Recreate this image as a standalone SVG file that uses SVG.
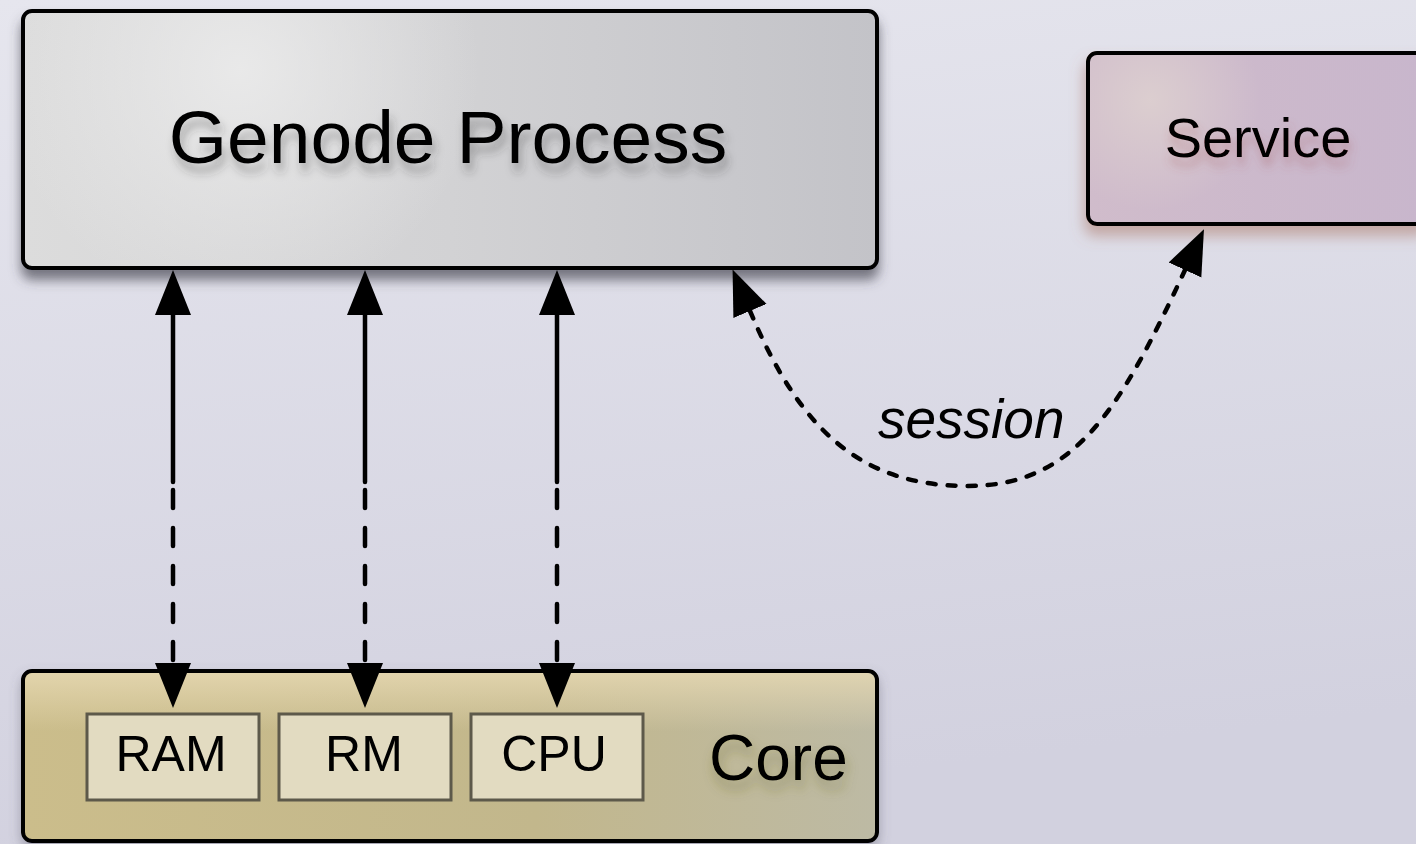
<svg xmlns="http://www.w3.org/2000/svg" width="1416" height="844" viewBox="0 0 1416 844">
<defs>
<style>
.lbl{font-family:"Liberation Sans",Arial,Helvetica,sans-serif;fill:#000}
.box{stroke:#000;stroke-width:4}
.inner{fill:#e2dbc1;stroke:#5d594a;stroke-width:3}
.conn{fill:none;stroke:#000;stroke-width:4.5;stroke-linecap:round}
.dash{stroke-dasharray:18 20}
.sdash{stroke-dasharray:8 12}
</style>
<linearGradient id="bg" x1="0" y1="0" x2="0.2" y2="1">
<stop offset="0" stop-color="#e6e6ee"/>
<stop offset="1" stop-color="#d2d1df"/>
</linearGradient>
<linearGradient id="gpFill" x1="0" y1="0" x2="1" y2="0">
<stop offset="0" stop-color="#dcdcdc"/>
<stop offset="0.5" stop-color="#d2d2d4"/>
<stop offset="1" stop-color="#c3c3c8"/>
</linearGradient>
<radialGradient id="gpHi" cx="240" cy="70" r="240" gradientUnits="userSpaceOnUse">
<stop offset="0" stop-color="#ececec" stop-opacity="0.85"/>
<stop offset="1" stop-color="#ececec" stop-opacity="0"/>
</radialGradient>
<linearGradient id="svFill" x1="0" y1="0" x2="1" y2="0">
<stop offset="0" stop-color="#d0bccb"/>
<stop offset="1" stop-color="#c8b6cc"/>
</linearGradient>
<radialGradient id="svHi" cx="1150" cy="100" r="110" gradientUnits="userSpaceOnUse">
<stop offset="0" stop-color="#ddd0d0" stop-opacity="0.9"/>
<stop offset="1" stop-color="#ddd0d0" stop-opacity="0"/>
</radialGradient>
<linearGradient id="coreFill" x1="0" y1="0" x2="1" y2="0">
<stop offset="0" stop-color="#cbbd8b"/>
<stop offset="0.6" stop-color="#c2b78c"/>
<stop offset="1" stop-color="#bdbaa4"/>
</linearGradient>
<linearGradient id="coreTop" x1="0" y1="0" x2="0" y2="1">
<stop offset="0" stop-color="#e8dab4" stop-opacity="0.8"/>
<stop offset="0.35" stop-color="#e8dab4" stop-opacity="0"/>
</linearGradient>
<filter id="shGrey" x="-5%" y="-10%" width="110%" height="130%">
<feDropShadow dx="0" dy="10" stdDeviation="6" flood-color="#404048" flood-opacity="0.65"/>
</filter>
<filter id="shSv" x="-10%" y="-10%" width="120%" height="140%">
<feDropShadow dx="-2" dy="10" stdDeviation="7" flood-color="#a87060" flood-opacity="0.5"/>
</filter>
<filter id="shCore" x="-5%" y="-10%" width="110%" height="130%">
<feDropShadow dx="0" dy="6" stdDeviation="6" flood-color="#55555f" flood-opacity="0.4"/>
</filter>
<filter id="tsGrey" x="-10%" y="-30%" width="120%" height="170%">
<feDropShadow dx="3" dy="9" stdDeviation="5" flood-color="#303030" flood-opacity="0.35"/>
</filter>
<filter id="tsRed" x="-10%" y="-30%" width="120%" height="170%">
<feDropShadow dx="2" dy="9" stdDeviation="5" flood-color="#a05050" flood-opacity="0.35"/>
</filter>
<filter id="tsOlive" x="-10%" y="-30%" width="120%" height="170%">
<feDropShadow dx="2" dy="9" stdDeviation="6" flood-color="#606020" flood-opacity="0.4"/>
</filter>
<marker id="ah" viewBox="0 -19 46 38" markerUnits="userSpaceOnUse" markerWidth="46" markerHeight="38" refX="0" refY="0" orient="auto-start-reverse">
<path d="M0,-18 L45,0 L0,18 z" fill="#000"/>
</marker>
</defs>
<rect x="0" y="0" width="1416" height="844" fill="url(#bg)"/>

<g id="genode-process">
<rect class="box" x="23" y="11" width="854" height="257" rx="9" fill="url(#gpFill)" filter="url(#shGrey)"/>
<rect x="25" y="13" width="850" height="253" rx="8" fill="url(#gpHi)"/>
<text class="lbl" x="448" y="163" font-size="75" text-anchor="middle" filter="url(#tsGrey)">Genode Process</text>
</g>

<g id="service">
<rect class="box" x="1088" y="53" width="340" height="171" rx="9" fill="url(#svFill)" filter="url(#shSv)"/>
<rect x="1090" y="55" width="326" height="167" rx="8" fill="url(#svHi)"/>
<text class="lbl" x="1258" y="157" font-size="56" text-anchor="middle" filter="url(#tsRed)">Service</text>
</g>

<g id="core">
<rect class="box" x="23" y="671" width="854" height="170" rx="9" fill="url(#coreFill)" filter="url(#shCore)"/>
<rect x="25" y="673" width="850" height="166" rx="8" fill="url(#coreTop)"/>
<text class="lbl" x="709" y="780" font-size="64" filter="url(#tsOlive)">Core</text>
</g>

<g id="ram">
<rect class="inner" x="87" y="714" width="172" height="86"/>
<text class="lbl" x="171" y="771" font-size="50" text-anchor="middle">RAM</text>
</g>
<g id="rm">
<rect class="inner" x="279" y="714" width="172" height="86"/>
<text class="lbl" x="364" y="771" font-size="50" text-anchor="middle">RM</text>
</g>
<g id="cpu">
<rect class="inner" x="471" y="714" width="172" height="86"/>
<text class="lbl" x="554" y="771" font-size="50" text-anchor="middle">CPU</text>
</g>

<g id="connectors">
<path class="conn" d="M173,315 L173,482" marker-start="url(#ah)"/>
<path class="conn dash" d="M173,490 L173,663" marker-end="url(#ah)"/>
<path class="conn" d="M365,315 L365,482" marker-start="url(#ah)"/>
<path class="conn dash" d="M365,490 L365,663" marker-end="url(#ah)"/>
<path class="conn" d="M557,315 L557,482" marker-start="url(#ah)"/>
<path class="conn dash" d="M557,490 L557,663" marker-end="url(#ah)"/>
<path class="conn sdash" d="M750,311 C800,430 860,486 968,486 C1075,486 1120,410 1185,270" marker-start="url(#ah)" marker-end="url(#ah)"/>
<text class="lbl" x="878" y="438" font-size="55" font-style="italic">session</text>
</g>
</svg>
